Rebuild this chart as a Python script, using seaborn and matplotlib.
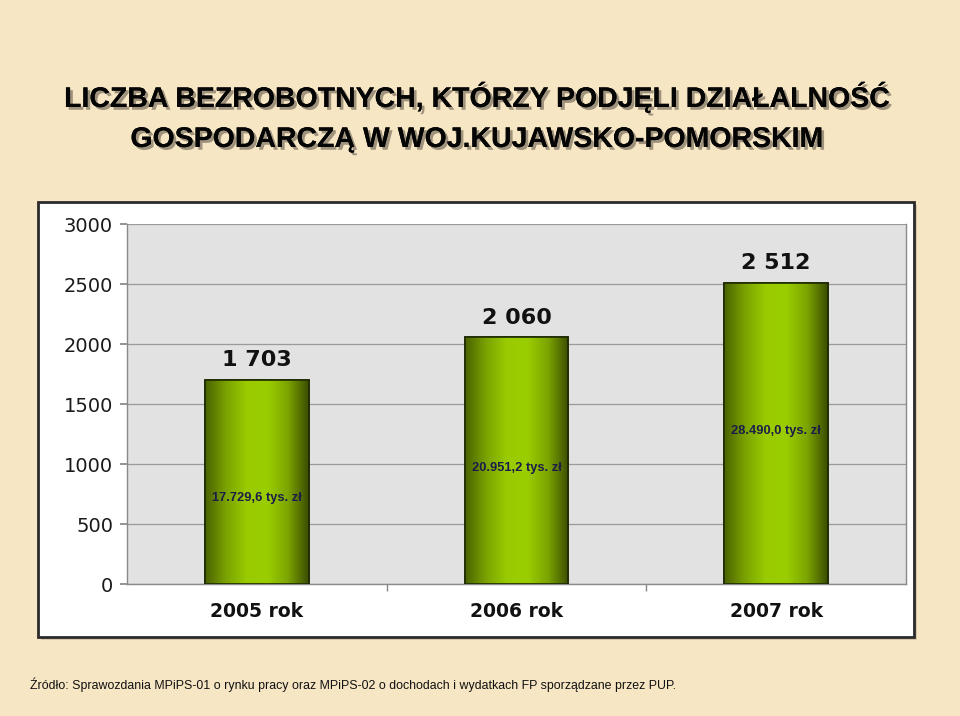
import matplotlib
matplotlib.use("Agg")
import matplotlib.pyplot as plt
import matplotlib.patheffects as pe
from matplotlib.patches import Rectangle
from matplotlib.colors import LinearSegmentedColormap
import numpy as np
import pandas as pd
import seaborn as sns

# ---- data ----
categories = ["2005 rok", "2006 rok", "2007 rok"]
values = [1703, 2060, 2512]
value_labels = ["1 703", "2 060", "2 512"]
funds_labels = ["17.729,6 tys. zł", "20.951,2 tys. zł", "28.490,0 tys. zł"]
funds_label_height = [717, 967, 1275]
y_ticks = [0, 500, 1000, 1500, 2000, 2500, 3000]
title_lines = ["LICZBA BEZROBOTNYCH, KTÓRZY PODJĘLI DZIAŁALNOŚĆ",
               "GOSPODARCZĄ W WOJ.KUJAWSKO-POMORSKIM"]
source_text = ("Źródło: Sprawozdania MPiPS-01 o rynku pracy oraz MPiPS-02 "
               "o dochodach i wydatkach FP sporządzane przez PUP.")

df = pd.DataFrame({"rok": categories, "liczba": values})

sns.set_theme(style="white")
plt.rcParams["font.family"] = ["Liberation Sans", "DejaVu Sans"]
wide = ["DejaVu Sans"]

W, H = 960, 716
fig = plt.figure(figsize=(W / 100, H / 100), dpi=100)
fig.patch.set_facecolor("#f6e6c3")

def fx(px):
    return px / W

def fy(py):
    return 1 - py / H

# outer white box with shadow
fig.patches.append(Rectangle((fx(41), fy(640)), fx(914 - 38), (637 - 202) / H,
                             transform=fig.transFigure, facecolor="#b8a888",
                             edgecolor="none", alpha=0.5, zorder=0))
fig.patches.append(Rectangle((fx(38), fy(637)), fx(914 - 38), (637 - 202) / H,
                             transform=fig.transFigure, facecolor="white",
                             edgecolor="#2a2a2a", linewidth=2, zorder=0.5))

ax = fig.add_axes([fx(127), fy(584), fx(906 - 127), (584 - 224) / H])
ax.set_zorder(2)
ax.set_facecolor("#e2e2e2")

sns.barplot(data=df, x="rok", y="liczba", ax=ax, width=0.4,
            color="#8fbf00", edgecolor="#1e2a00", linewidth=1.2, zorder=3)

cmap = LinearSegmentedColormap.from_list(
    "bar", ["#4a6200", "#7aa200", "#99cb00", "#9bce00", "#7ca400", "#3a4d00"])
grad = np.linspace(0, 1, 256).reshape(1, -1)
for p in list(ax.patches):
    x0, y0 = p.get_x(), p.get_y()
    w, h = p.get_width(), p.get_height()
    im = ax.imshow(grad, cmap=cmap, aspect="auto",
                   extent=(x0, x0 + w, y0, y0 + h), zorder=3.5,
                   interpolation="bicubic")
    im.set_clip_path(p)
    ax.add_patch(Rectangle((x0, y0), w, h, facecolor="none",
                           edgecolor="#1e2a00", linewidth=1.2, zorder=4))

ax.set_xlim(-0.5, 2.5)
ax.set_ylim(0, 3000)
ax.set_yticks(y_ticks)
ax.set_yticklabels([str(t) for t in y_ticks], fontsize=14, color="#1a1a1a",
                   family=wide)
ax.yaxis.grid(True, color="#9a9a9a", linewidth=0.9, zorder=1)
ax.set_axisbelow(True)
ax.set_xlabel("")
ax.set_ylabel("")
ax.set_xticks(range(len(categories)))
ax.set_xticklabels(categories, fontsize=13.5, fontweight="bold", color="#111111",
                   family=wide)
ax.set_xticks([0.5, 1.5], minor=True)
ax.tick_params(axis="x", which="major", length=0, pad=13)
ax.tick_params(axis="x", which="minor", length=5, color="#888888", direction="out", bottom=True)
ax.tick_params(axis="y", length=5, color="#888888", direction="out", left=True, pad=5)
for s in ["left", "bottom", "right", "top"]:
    ax.spines[s].set_color("#8a8a8a")
    ax.spines[s].set_linewidth(1.0)
ax.spines["top"].set_visible(False)

for i, (v, lab) in enumerate(zip(values, value_labels)):
    ax.annotate(lab, (i, v), xytext=(0, 9.5), textcoords="offset points",
                ha="center", va="baseline", fontsize=16, fontweight="bold",
                color="#111111", zorder=6, family=wide)
for i, (yv, lab) in enumerate(zip(funds_label_height, funds_labels)):
    ax.text(i, yv, lab, ha="center", va="center", fontsize=9.3,
            fontweight="bold", color="#1c1c4a", zorder=6)

shadow = [pe.withSimplePatchShadow(offset=(2, -2), shadow_rgbFace="#7a7060", alpha=0.7),
          pe.Normal()]
fig.text(fx(477), fy(107), title_lines[0], ha="center", va="baseline",
         fontsize=20.5, fontweight="bold", color="#050505",
         path_effects=shadow)
fig.text(fx(477), fy(147), title_lines[1], ha="center", va="baseline",
         fontsize=20.5, fontweight="bold", color="#050505",
         path_effects=shadow)

fig.text(fx(30), fy(689), source_text, ha="left", va="baseline",
         fontsize=8.9, color="#111111")

fig.savefig("out.png", dpi=100, facecolor=fig.get_facecolor())
